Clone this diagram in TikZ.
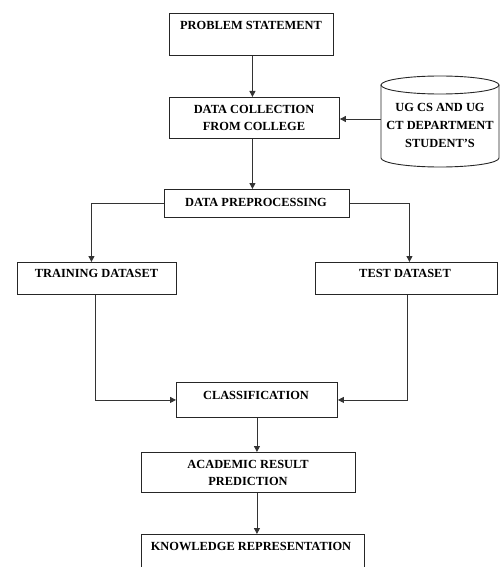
\documentclass[tikz,border=0pt]{standalone}
\usepackage{fontspec}
\setmainfont{Liberation Serif}
\usetikzlibrary{arrows.meta}
\begin{document}
\begin{tikzpicture}[x=1pt,y=-1pt,
  box/.style={draw=black!85,line width=0.9pt,inner sep=0pt,anchor=north west},
  lbl/.style={font=\bfseries\fontsize{12.4}{17}\selectfont,align=center,inner sep=0pt},
  conn/.style={line width=0.9pt,draw=black!80},
  arr/.style={conn,-{Triangle[length=6pt,width=6pt]}}]
\useasboundingbox (0,0) rectangle (502,567);
\clip (0,0) rectangle (502,567);
% boxes
\node[box,minimum width=164pt,minimum height=42pt] (ps) at (169,13) {};
\node[box,minimum width=170pt,minimum height=41pt] (dc) at (169,97) {};
\node[box,minimum width=185pt,minimum height=28pt] (dp) at (164,189) {};
\node[box,minimum width=159pt,minimum height=32pt] (tr) at (17,262) {};
\node[box,minimum width=182pt,minimum height=32pt] (te) at (315,262) {};
\node[box,minimum width=161pt,minimum height=35pt] (cl) at (176,382) {};
\node[box,minimum width=214pt,minimum height=40pt] (arp) at (141,452) {};
\node[box,minimum width=223pt,minimum height=45pt] (kr) at (141,534) {};
% cylinder
\draw[line width=0.9pt,draw=black!85] (440,85) ellipse [x radius=59pt, y radius=9pt];
\draw[line width=0.9pt,draw=black!85] (381,85) -- (381,158) arc[start angle=180, end angle=360, x radius=59pt, y radius=9pt] -- (499,85);
\coordinate (cylw) at (381,119);
% labels
\node[lbl] (ps-t) at (251,25) {PROBLEM STATEMENT};
\node[lbl] (dc-t) at (254,117.5) {DATA COLLECTION\\FROM COLLEGE};
\node[lbl,font=\bfseries\fontsize{12.4}{18}\selectfont] (cyl-t) at (440,125) {UG CS AND UG\\CT DEPARTMENT\\STUDENT’S};
\node[lbl] (dp-t) at (256,202) {DATA PREPROCESSING};
\node[lbl] (tr-t) at (96.5,273) {TRAINING DATASET};
\node[lbl] (te-t) at (405,273) {TEST DATASET};
\node[lbl] (cl-t) at (256,395) {CLASSIFICATION};
\node[lbl] (arp-t) at (248,472.5) {ACADEMIC RESULT\\PREDICTION};
\node[lbl] (kr-t) at (251,546) {KNOWLEDGE REPRESENTATION};
% connectors
\draw[arr] ([xshift=1pt]ps.south) -- ([xshift=1pt]ps.south |- dc.north);
\draw[arr] ([xshift=1pt]ps.south |- dc.south) -- ([xshift=1pt]ps.south |- dp.north);
\draw[arr] (cylw) -- (cylw -| dc.east);
\draw[arr] (dp.west) -| ([xshift=-5.5pt]tr.north);
\draw[arr] (dp.east) -| ([xshift=3pt]te.north);
\draw[arr] ([xshift=-1.5pt]tr.south) |- (cl.west);
\draw[arr] ([xshift=1pt]te.south) |- (cl.east);
\draw[arr] (cl.south) -- (cl.south |- arp.north);
\draw[arr] (cl.south |- arp.south) -- (cl.south |- kr.north);
\end{tikzpicture}
\end{document}
